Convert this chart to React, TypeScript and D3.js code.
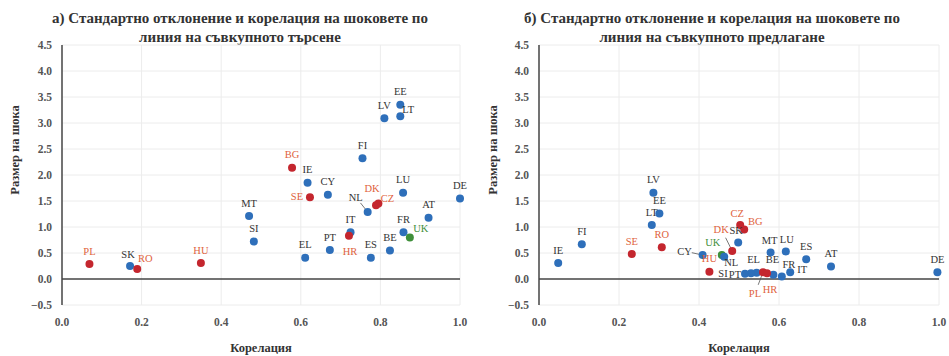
import React from "react";
import * as d3 from "d3";

// ---------- DATA ----------
const demandCountries = ["EE","LT","LV","FI","BG","IE","CY","SE","LU","DE","DK","CZ","NL","AT","MT","IT","HR","FR","UK","SI","PT","BE","ES","EL","HU","PL","SK","RO"];
const demandCorr = [0.85,0.85,0.81,0.755,0.578,0.617,0.668,0.623,0.857,1.0,0.789,0.795,0.768,0.921,0.47,0.725,0.721,0.858,0.874,0.482,0.673,0.824,0.776,0.611,0.349,0.069,0.171,0.189];
const demandSize = [3.35,3.13,3.09,2.32,2.14,1.85,1.62,1.57,1.66,1.55,1.42,1.45,1.29,1.18,1.21,0.9,0.83,0.9,0.8,0.72,0.56,0.55,0.41,0.41,0.31,0.29,0.25,0.19];
const demandGroup = ["e","e","e","e","n","e","e","n","e","e","n","n","e","e","e","e","n","e","u","e","e","e","e","e","n","n","e","n"];

const supplyCountries = ["IE","FI","SE","LV","EE","LT","RO","CY","HU","UK","NL","DK","SK","CZ","BG","MT","LU","ES","AT","EL","BE","FR","IT","PL","HR","PT","SI","DE"];
const supplyCorr = [0.048,0.107,0.232,0.286,0.301,0.282,0.307,0.409,0.426,0.457,0.463,0.483,0.498,0.503,0.513,0.579,0.617,0.668,0.73,0.544,0.586,0.607,0.628,0.56,0.57,0.53,0.515,0.996];
const supplySize = [0.31,0.67,0.48,1.66,1.26,1.04,0.61,0.46,0.14,0.46,0.43,0.54,0.7,1.04,0.95,0.51,0.53,0.38,0.24,0.12,0.08,0.05,0.13,0.13,0.11,0.11,0.1,0.13];
const supplyGroup = ["e","e","n","e","e","e","n","e","n","u","e","n","e","n","n","e","e","e","e","e","e","e","e","n","n","e","e","e"];

const xTicks = [0, 0.2, 0.4, 0.6, 0.8, 1.0];
const yTicks = [-0.5, 0, 0.5, 1, 1.5, 2, 2.5, 3, 3.5, 4, 4.5];

const titleA = ["а) Стандартно отклонение и корелация на шоковете по", "линия на съвкупното търсене"];
const titleB = ["б) Стандартно отклонение и корелация на шоковете по", "линия на съвкупното предлагане"];
const xTitle = "Корелация";
const yTitle = "Размер на шока";

// ---------- LAYOUT (label placement, not data) ----------
type Off = { dx: number; dy: number; lead?: boolean };
const demandLabelOff: Record<string, Off> = {
  LT: { dx: 8, dy: -7 }, SE: { dx: -13, dy: -1 }, DK: { dx: -4, dy: -17 },
  CZ: { dx: 9, dy: -5 }, NL: { dx: -12, dy: -15, lead: true }, HR: { dx: 1, dy: 15 },
  UK: { dx: 11, dy: -9 }, RO: { dx: 8, dy: -11 }, SK: { dx: -2, dy: -12 },
};
const supplyLabelOff: Record<string, Off> = {
  CY: { dx: -18, dy: -4, lead: true }, UK: { dx: -9, dy: -13 }, NL: { dx: 7, dy: 6, lead: true },
  DK: { dx: -11, dy: -22, lead: true }, SK: { dx: -2, dy: -12 }, CZ: { dx: -3, dy: -12 },
  BG: { dx: 11, dy: -8 }, EL: { dx: -3, dy: -13 }, BE: { dx: -1, dy: -16 }, FR: { dx: 7, dy: -12 },
  IT: { dx: 12, dy: -3 }, PL: { dx: -8, dy: 21, lead: true }, HR: { dx: 3, dy: 16 },
  PT: { dx: -16, dy: 1 }, SI: { dx: -22, dy: 0 }, LU: { dx: 1, dy: -12 }, MT: { dx: -1, dy: -12 },
};

const colors: Record<string, { dot: string; label: string }> = {
  e: { dot: "#2e6fba", label: "#333" },
  n: { dot: "#c4262e", label: "#e0623c" },
  u: { dot: "#3f8f3a", label: "#3f8f3a" },
};

const FONT = "'Liberation Serif', 'Times New Roman', serif";

type PanelProps = {
  left: number; right: number; title: string[]; titleX: number; yTitleX: number;
  countries: string[]; corr: number[]; size: number[]; group: string[]; offs: Record<string, Off>;
};

function Panel(p: PanelProps) {
  const x = d3.scaleLinear().domain([0, 1]).range([p.left, p.right]);
  const y = d3.scaleLinear().domain([-0.5, 4.5]).range([305, 45]);
  const fmt = d3.format(".1f");
  const pts = p.countries.map((c, i) => ({ c, u: p.corr[i], v: p.size[i], g: p.group[i] }));
  return (
    <g>
      {p.title.map((t, i) => (
        <text key={i} x={p.titleX} y={23 + i * 19} textAnchor="middle" fontFamily={FONT} fontWeight="bold" fontSize={15} fill="#333">{t}</text>
      ))}
      {yTicks.filter((t) => t !== 0).map((t) => (
        <line key={"gy" + t} x1={p.left} x2={p.right} y1={y(t)} y2={y(t)} stroke="#ececec" strokeWidth={1} />
      ))}
      {xTicks.filter((t) => t !== 0).map((t) => (
        <line key={"gx" + t} x1={x(t)} x2={x(t)} y1={y(-0.5)} y2={y(4.5)} stroke="#ececec" strokeWidth={1} />
      ))}
      <line x1={p.left} x2={p.right} y1={y(0)} y2={y(0)} stroke="#444" strokeWidth={1.5} />
      <line x1={p.left} x2={p.left} y1={y(-0.5)} y2={y(4.5)} stroke="#444" strokeWidth={1.5} />
      {yTicks.map((t) => (
        <text key={"ty" + t} x={p.left - 10} y={y(t)} dy="0.35em" textAnchor="end" fontFamily={FONT} fontSize={11.5} fontWeight="bold" fill="#555">{fmt(t)}</text>
      ))}
      {xTicks.map((t) => (
        <text key={"tx" + t} x={x(t)} y={326} textAnchor="middle" fontFamily={FONT} fontSize={11.5} fontWeight="bold" fill="#555">{fmt(t)}</text>
      ))}
      <text x={(p.left + p.right) / 2} y={352} textAnchor="middle" fontFamily={FONT} fontSize={12.5} fontWeight="bold" fill="#333">{xTitle}</text>
      <text transform={`translate(${p.yTitleX},150) rotate(-90)`} textAnchor="middle" fontFamily={FONT} fontSize={12.5} fontWeight="bold" fill="#333">{yTitle}</text>
      {pts.map((d) => {
        const o = p.offs[d.c];
        if (!o || !o.lead) return null;
        const cx = x(d.u), cy = y(d.v);
        const lx = cx + o.dx * 0.6, ly = cy + o.dy * 0.6;
        return <line key={"l" + d.c} x1={cx} y1={cy} x2={lx} y2={ly} stroke="#555" strokeWidth={0.8} />;
      })}
      {pts.map((d) => (
        <circle key={"c" + d.c} cx={x(d.u)} cy={y(d.v)} r={4} fill={colors[d.g].dot} />
      ))}
      {pts.map((d) => {
        const o = p.offs[d.c] || { dx: 0, dy: -13 };
        return (
          <text key={"t" + d.c} x={x(d.u) + o.dx} y={y(d.v) + o.dy} dy="0.35em" textAnchor="middle" fontFamily={FONT} fontSize={10.5} fill={colors[d.g].label}>{d.c}</text>
        );
      })}
    </g>
  );
}

export default function App() {
  return (
    <svg width={949} height={356} style={{ position: "absolute", left: 0, top: 0, background: "#fff" }}>
      <rect width={949} height={356} fill="#fff" />
      <Panel left={62} right={460} title={titleA} titleX={240} yTitleX={19}
        countries={demandCountries} corr={demandCorr} size={demandSize} group={demandGroup} offs={demandLabelOff} />
      <Panel left={539} right={939} title={titleB} titleX={712} yTitleX={497}
        countries={supplyCountries} corr={supplyCorr} size={supplySize} group={supplyGroup} offs={supplyLabelOff} />
    </svg>
  );
}
